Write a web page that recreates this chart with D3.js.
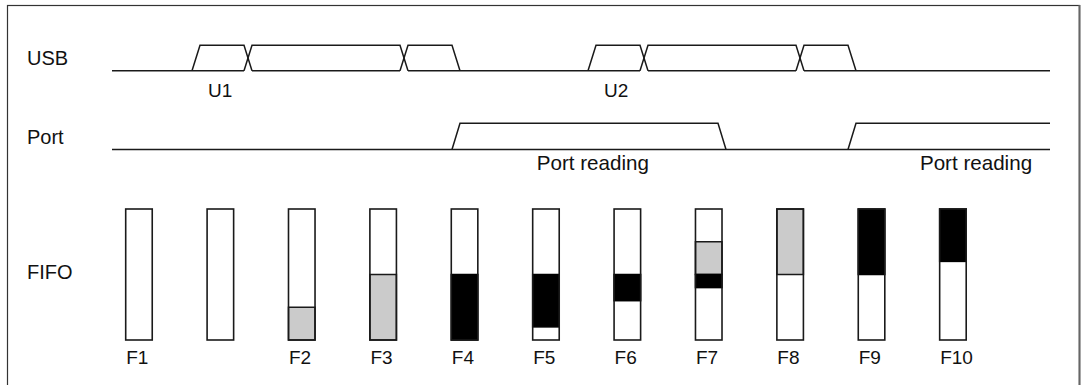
<!DOCTYPE html>
<html>
<head>
<meta charset="utf-8">
<script src="https://cdn.jsdelivr.net/npm/d3@7"></script>
<style>
  html, body { margin: 0; padding: 0; background: #fff; }
  svg { display: block; }
  text { font-family: "Liberation Sans", Arial, Helvetica, sans-serif; fill: #111; }
</style>
</head>
<body>
<div id="chart"></div>
<script>
// ---- data (time in arbitrary units, 1 unit = one edge duration) ----
const timeEnd = 117.25;
const rowLabels = ["USB", "Port", "FIFO"];
// USB packets: boundaries (centres of transitions) between data fields
const usbPacketU1 = [10.5, 17, 36.5, 43];
const usbPacketU2 = [60, 66.5, 86, 92.5];
const usbPacketNames = ["U1", "U2"];
const usbPacketLabelTimes = [12, 61.5];
// Port signal high intervals (centre of rise, centre of fall; null = stays high)
const portHighStarts = [43, 92.5];
const portHighEnds = [76.25, null];
const portLabel = "Port reading";
const portLabelTimes = [60.1, 108];
// FIFO fill levels (fraction of depth, from bottom)
const fifoLabels = ["F1", "", "F2", "F3", "F4", "F5", "F6", "F7", "F8", "F9", "F10"];
const grayLow  = [null, null, 0.00, 0.00, null, null, null, 0.50, 0.50, null, null];
const grayHigh = [null, null, 0.25, 0.50, null, null, null, 0.75, 1.00, null, null];
const blackLow  = [null, null, null, null, 0.00, 0.10, 0.30, 0.40, null, 0.50, 0.60];
const blackHigh = [null, null, null, null, 0.50, 0.50, 0.50, 0.50, null, 1.00, 1.00];

// ---- layout ----
const W = 1081, H = 385;
const svg = d3.select("#chart").append("svg").attr("width", W).attr("height", H);
const ink = "#1a1a1a";

// frame
svg.append("rect").attr("x", 7.5).attr("y", 5.5).attr("width", 1072).attr("height", 400)
  .attr("fill", "none").attr("stroke", "#333").attr("stroke-width", 1.2);
svg.append("line").attr("x1", 1079.5).attr("x2", 1079.5).attr("y1", 5).attr("y2", H)
  .attr("stroke", "#666").attr("stroke-width", 2);

const x = d3.scaleLinear().domain([0, timeEnd]).range([112, 1050]);
const usbY = d3.scaleLinear().domain([0, 1]).range([70.7, 45.2]);
const portY = d3.scaleLinear().domain([0, 1]).range([149.5, 123.3]);
const edge = 1;

// row labels
const rowBaselines = [65, 144, 279];
svg.selectAll("text.row").data(rowLabels).enter().append("text")
  .attr("class", "row").attr("x", 27).attr("y", (d, i) => rowBaselines[i])
  .attr("font-size", 20).text(d => d);

const line = d3.line().x(d => x(d[0])).y(d => d[1]);

function drawSignal(yScale, segments, crosses) {
  // baseline, with gaps where data fields cross
  const cuts = crosses.slice().sort((a, b) => a - b);
  let start = 0;
  const pieces = [];
  cuts.forEach(c => { pieces.push([start, c - edge / 2]); start = c + edge / 2; });
  pieces.push([start, timeEnd]);
  pieces.forEach(p => {
    svg.append("path").attr("d", line([[p[0], yScale(0)], [p[1], yScale(0)]]))
      .attr("fill", "none").attr("stroke", ink).attr("stroke-width", 1.5);
  });
  segments.forEach(s => {
    const a = s[0], b = s[1];
    const pts = [[a - edge / 2, yScale(0)], [a + edge / 2, yScale(1)]];
    if (b === null) pts.push([timeEnd, yScale(1)]);
    else pts.push([b - edge / 2, yScale(1)], [b + edge / 2, yScale(0)]);
    svg.append("path").attr("d", line(pts))
      .attr("fill", "none").attr("stroke", ink).attr("stroke-width", 1.5)
      .attr("stroke-linejoin", "miter");
  });
}

// USB
const usbSegments = [], usbCrosses = [];
[usbPacketU1, usbPacketU2].forEach(p => {
  for (let i = 0; i < p.length - 1; i++) usbSegments.push([p[i], p[i + 1]]);
  for (let i = 1; i < p.length - 1; i++) usbCrosses.push(p[i]);
});
drawSignal(usbY, usbSegments, usbCrosses);
svg.selectAll("text.pkt").data(usbPacketNames).enter().append("text")
  .attr("class", "pkt").attr("x", (d, i) => x(usbPacketLabelTimes[i])).attr("y", 97)
  .attr("font-size", 19).text(d => d);

// Port
drawSignal(portY, portHighStarts.map((s, i) => [s, portHighEnds[i]]), []);
svg.selectAll("text.port").data(portLabelTimes).enter().append("text")
  .attr("class", "port").attr("x", d => x(d)).attr("y", 170)
  .attr("text-anchor", "middle").attr("font-size", 20.6).text(portLabel);

// FIFO
const fx = d3.scaleBand().domain(d3.range(fifoLabels.length)).range([125.7, 966.2])
  .paddingInner(0.674).paddingOuter(0);
const fy = d3.scaleLinear().domain([0, 1]).range([340, 209]);

const bars = svg.selectAll("g.fifo").data(fifoLabels).enter().append("g").attr("class", "fifo");
bars.append("rect").attr("x", (d, i) => fx(i)).attr("y", fy(1))
  .attr("width", fx.bandwidth()).attr("height", fy(0) - fy(1)).attr("fill", "#fff");
bars.each(function (d, i) {
  const g = d3.select(this);
  if (grayLow[i] !== null) {
    g.append("rect").attr("x", fx(i)).attr("y", fy(grayHigh[i]))
      .attr("width", fx.bandwidth()).attr("height", fy(grayLow[i]) - fy(grayHigh[i]))
      .attr("fill", "#cbcbcb").attr("stroke", ink).attr("stroke-width", 1.5);
  }
  if (blackLow[i] !== null) {
    g.append("rect").attr("x", fx(i)).attr("y", fy(blackHigh[i]))
      .attr("width", fx.bandwidth()).attr("height", fy(blackLow[i]) - fy(blackHigh[i]))
      .attr("fill", "#000").attr("stroke", "#000").attr("stroke-width", 1.5);
  }
});
bars.append("rect").attr("x", (d, i) => fx(i)).attr("y", fy(1))
  .attr("width", fx.bandwidth()).attr("height", fy(0) - fy(1))
  .attr("fill", "none").attr("stroke", ink).attr("stroke-width", 1.6);
bars.append("text").attr("x", (d, i) => fx(i) + 0.5).attr("y", 364)
  .attr("font-size", 19).text(d => d);
</script>
</body>
</html>
